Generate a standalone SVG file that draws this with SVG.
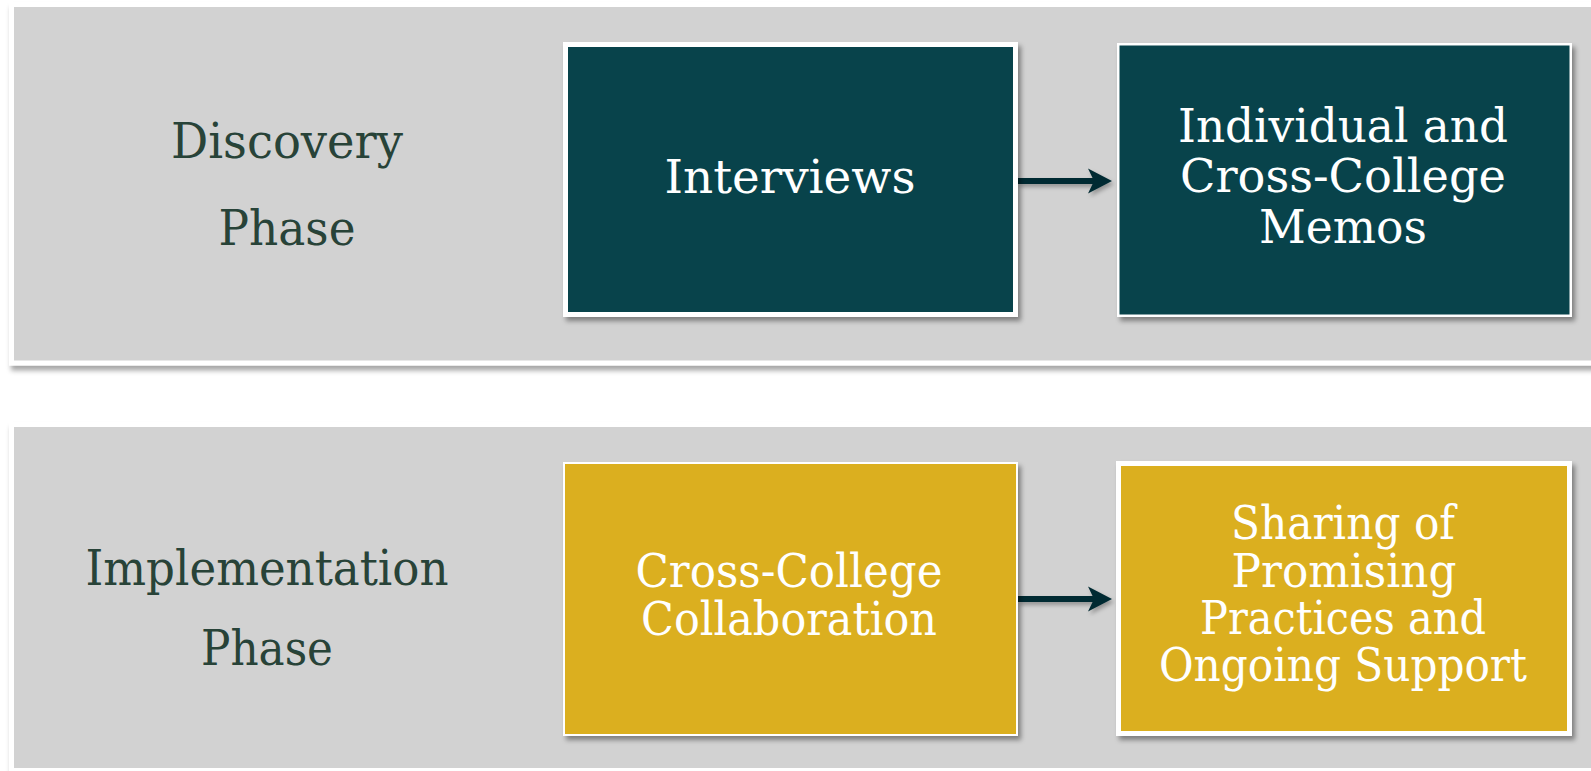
<svg xmlns="http://www.w3.org/2000/svg" width="1591" height="771" viewBox="0 0 1591 771">
<defs>
<style>
.panel{fill:#d2d2d2;stroke:#ffffff;stroke-width:5}
.phase{font-family:"DejaVu Serif","Liberation Serif",serif;font-size:48px;fill:#284338;text-anchor:middle}
.btxt{font-family:"DejaVu Serif","Liberation Serif",serif;font-size:47px;fill:#ffffff;text-anchor:middle}
.teal{fill:#08434b}
.gold{fill:#dbaf1f}
.edge{stroke:#062a33;stroke-width:6;fill:none}
.head{fill:#062a33}
</style>
<filter id="pshadow" x="-5%" y="-10%" width="110%" height="125%">
<feDropShadow dx="2" dy="5" stdDeviation="2.5" flood-color="#000" flood-opacity="0.35"/>
</filter>
<filter id="bshadow" x="-5%" y="-5%" width="115%" height="115%">
<feDropShadow dx="3" dy="4" stdDeviation="2.5" flood-color="#000" flood-opacity="0.4"/>
</filter>
<filter id="ashadow" x="-10%" y="-30%" width="130%" height="180%">
<feDropShadow dx="2" dy="3" stdDeviation="2" flood-color="#000" flood-opacity="0.3"/>
</filter>
</defs>
<rect width="1591" height="771" fill="#ffffff"/>
<g id="discovery-phase">
<rect class="panel" x="11.5" y="4.5" width="1600" height="358.5" filter="url(#pshadow)"/>
<text class="phase" x="287" y="158" textLength="232" lengthAdjust="spacingAndGlyphs">Discovery</text>
<text class="phase" x="287" y="245" textLength="137" lengthAdjust="spacingAndGlyphs">Phase</text>
</g>
<g id="implementation-phase">
<rect class="panel" x="11.5" y="424.5" width="1600" height="346" filter="url(#pshadow)"/>
<text class="phase" x="267" y="585" textLength="363" lengthAdjust="spacingAndGlyphs">Implementation</text>
<text class="phase" x="267" y="665" textLength="132" lengthAdjust="spacingAndGlyphs">Phase</text>
</g>
<g id="connectors">
<g filter="url(#ashadow)">
<line class="edge" x1="1018" y1="181" x2="1094" y2="181"/>
<polygon class="head" points="1112,181 1088,168.5 1094,181 1088,193.5"/>
</g>
<g filter="url(#ashadow)">
<line class="edge" x1="1018" y1="599" x2="1094" y2="599"/>
<polygon class="head" points="1112,599 1088,586.5 1094,599 1088,611.5"/>
</g>
</g>
<g id="interviews">
<rect x="563" y="42" width="455" height="275" fill="#ffffff" filter="url(#bshadow)"/>
<rect class="teal" x="568" y="47" width="445" height="265"/>
<text class="btxt" x="790" y="193" textLength="251" lengthAdjust="spacingAndGlyphs">Interviews</text>
</g>
<g id="memos">
<rect x="1117" y="43" width="455" height="274" fill="#ffffff" filter="url(#bshadow)"/>
<rect class="teal" x="1119.5" y="45.5" width="450" height="269"/>
<text class="btxt" x="1343" y="142" textLength="330" lengthAdjust="spacingAndGlyphs">Individual and</text>
<text class="btxt" x="1343" y="192" textLength="326" lengthAdjust="spacingAndGlyphs">Cross-College</text>
<text class="btxt" x="1343" y="243" textLength="168" lengthAdjust="spacingAndGlyphs">Memos</text>
</g>
<g id="collaboration">
<rect x="563" y="462" width="455" height="274" fill="#ffffff" filter="url(#bshadow)"/>
<rect class="gold" x="565" y="464" width="451" height="270"/>
<text class="btxt" x="789" y="587" textLength="307" lengthAdjust="spacingAndGlyphs">Cross-College</text>
<text class="btxt" x="789" y="635" textLength="296" lengthAdjust="spacingAndGlyphs">Collaboration</text>
</g>
<g id="sharing">
<rect x="1116" y="461" width="456" height="275" fill="#ffffff" filter="url(#bshadow)"/>
<rect class="gold" x="1121" y="466" width="446" height="265"/>
<text class="btxt" x="1343" y="539" textLength="224" lengthAdjust="spacingAndGlyphs">Sharing of</text>
<text class="btxt" x="1344" y="587" textLength="225" lengthAdjust="spacingAndGlyphs">Promising</text>
<text class="btxt" x="1343" y="634" textLength="286" lengthAdjust="spacingAndGlyphs">Practices and</text>
<text class="btxt" x="1343" y="681" textLength="368" lengthAdjust="spacingAndGlyphs">Ongoing Support</text>
</g>
</svg>
